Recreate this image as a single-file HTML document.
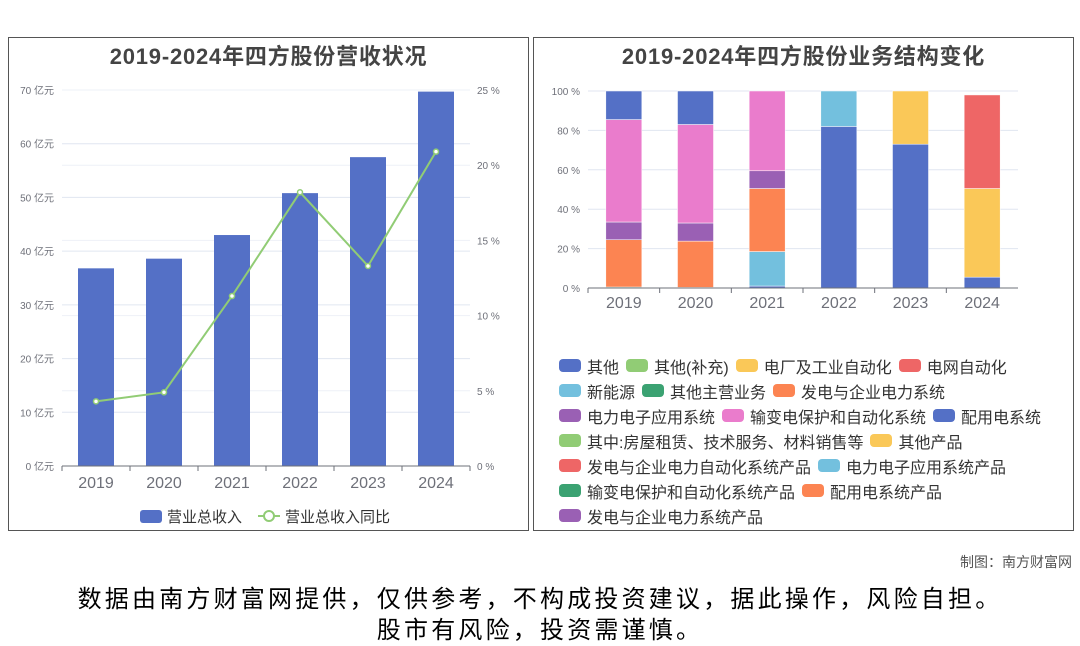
<!DOCTYPE html>
<html><head><meta charset="utf-8">
<style>
body{margin:0;width:1080px;height:646px;background:#fff;font-family:"Liberation Sans","Noto Sans CJK SC",sans-serif;position:relative;overflow:hidden}
.panel{position:absolute;border:1px solid #555;box-sizing:border-box;top:37px;height:494px}
.title{position:absolute;top:1px;left:0;right:0;text-align:center;font-weight:bold;font-size:22px;letter-spacing:0.8px;color:#444}
.leg{position:absolute;display:flex;flex-wrap:wrap;font-size:16px;color:#333;width:530px;left:25px;top:315px;row-gap:0;white-space:nowrap}
.li{display:flex;align-items:center;margin-right:7px;height:25px}
.sw{width:22px;height:13px;border-radius:4px;margin-right:6px}
svg text{font-family:"Liberation Sans","Noto Sans CJK SC",sans-serif}
</style></head><body>
<div class="panel" style="left:8px;width:521px">
<div class="title">2019-2024年四方股份营收状况</div>
</div>
<div class="panel" style="left:533px;width:541px">
<div class="title">2019-2024年四方股份业务结构变化</div>
<div class="leg" id="leg"></div>
</div>
<svg id="s" width="1080" height="646" style="position:absolute;left:0;top:0"></svg>
<div style="position:absolute;right:8px;top:552px;font-size:14px;color:#555">制图：南方财富网</div>
<div style="position:absolute;left:0;right:0;top:584px;text-align:center;font-size:24px;letter-spacing:3.2px;line-height:31px;color:#000">数据由南方财富网提供，仅供参考，不构成投资建议，据此操作，风险自担。<br>股市有风险，投资需谨慎。</div>
<script>
const years=['2019','2020','2021','2022','2023','2024'];
const revenue=[36.8,38.6,43.0,50.8,57.5,69.7];
const growth=[4.3,4.9,11.3,18.2,13.3,20.9];
const leftTicks=[0,10,20,30,40,50,60,70];
const rightTicks=[0,5,10,15,20,25];
const pctTicks=[0,20,40,60,80,100];
const legendNames=['其他','其他(补充)','电厂及工业自动化','电网自动化','新能源','其他主营业务','发电与企业电力系统','电力电子应用系统','输变电保护和自动化系统','配用电系统','其中:房屋租赁、技术服务、材料销售等','其他产品','发电与企业电力自动化系统产品','电力电子应用系统产品','输变电保护和自动化系统产品','配用电系统产品','发电与企业电力系统产品'];
const legendColors=['#5470c6','#91cc75','#fac858','#ee6666','#73c0de','#3ba272','#fc8452','#9a60b4','#ea7ccc','#5470c6','#91cc75','#fac858','#ee6666','#73c0de','#3ba272','#fc8452','#9a60b4'];
const stackNames=['其他','其他产品','电网自动化','新能源','输变电保护和自动化系统产品','发电与企业电力系统','电力电子应用系统','输变电保护和自动化系统','配用电系统'];
const stackColors=['#5470c6','#fac858','#ee6666','#73c0de','#3ba272','#fc8452','#9a60b4','#ea7ccc','#5470c6'];
const sOther=[0,0,1,82,73,5.5];
const sOtherProd=[0,0,0,0,27,45];
const sGrid=[0,0,0,0,0,47.5];
const sNewEnergy=[0,0,17.5,18,0,0];
const sTransProd=[0.5,0.3,0,0,0,0];
const sPower=[24,23.5,32,0,0,0];
const sElec=[9,9.2,9,0,0,0];
const sTrans=[52,50,40.5,0,0,0];
const sDist=[14.5,17,0,0,0,0];
const stacks=[sOther,sOtherProd,sGrid,sNewEnergy,sTransProd,sPower,sElec,sTrans,sDist];

const svg=document.getElementById('s');const NS='http://www.w3.org/2000/svg';
function mk(t,a,p){const e=document.createElementNS(NS,t);for(const k in a)e.setAttribute(k,a[k]);(p||svg).appendChild(e);return e;}
const L={x0:62,x1:470,y0:466,y1:90};
const yl=v=>L.y0-(v/70)*(L.y0-L.y1);
const yr=v=>L.y0-(v/25)*(L.y0-L.y1);
const bw=(L.x1-L.x0)/years.length;
const xl=i=>L.x0+bw*(i+0.5);
leftTicks.forEach(v=>{
 if(v>0){const g=mk('line',{x1:L.x0,x2:L.x1,y1:yl(v),y2:yl(v),stroke:'#e0e6f1'});}
 const t=mk('text',{x:54,y:yl(v)+4,'font-size':10,fill:'#6e7079','text-anchor':'end'});t.textContent=v+' 亿元';
 
});
rightTicks.forEach(v=>{
 if(v>0){const g=mk('line',{x1:L.x0,x2:L.x1,y1:yr(v),y2:yr(v),stroke:'#eef1f7'});}
 const t=mk('text',{x:477,y:yr(v)+4,'font-size':10,fill:'#6e7079'});t.textContent=v+' %';
 
});
revenue.forEach((v,i)=>{
 const r=mk('rect',{x:xl(i)-18,y:yl(v),width:36,height:L.y0-yl(v),fill:'#5470c6'});
 
});
const ax=mk('line',{x1:L.x0,x2:L.x1,y1:L.y0,y2:L.y0,stroke:'#6e7079'});
years.forEach((y,i)=>{
 const tk=mk('line',{x1:L.x0+bw*i,x2:L.x0+bw*i,y1:L.y0,y2:L.y0+5,stroke:'#6e7079'});
 const t=mk('text',{x:xl(i),y:488,'font-size':16,fill:'#6e7079','text-anchor':'middle'});t.textContent=y;
 
});
const tk6=mk('line',{x1:L.x1,x2:L.x1,y1:L.y0,y2:L.y0+5,stroke:'#6e7079'});
const pl=mk('polyline',{points:growth.map((v,i)=>xl(i)+','+yr(v)).join(' '),fill:'none',stroke:'#91cc75','stroke-width':2});

growth.forEach((v,i)=>{const c=mk('circle',{cx:xl(i),cy:yr(v),r:2.5,fill:'#fff',stroke:'#91cc75','stroke-width':1.5});});
let lg=mk('rect',{x:140,y:510,width:22,height:13,rx:3,fill:'#5470c6'});
let lt=mk('text',{x:167,y:522,'font-size':15,fill:'#333'});lt.textContent='营业总收入';
lg=mk('line',{x1:258,x2:280,y1:516,y2:516,stroke:'#91cc75','stroke-width':2});
lg=mk('circle',{cx:269,cy:516,r:5,fill:'#fff',stroke:'#91cc75','stroke-width':2});
lt=mk('text',{x:285,y:522,'font-size':15,fill:'#333'});lt.textContent='营业总收入同比';
const R={x0:588,x1:1018,y0:288,y1:91};
const yp=v=>R.y0-(v/100)*(R.y0-R.y1);
const rbw=(R.x1-R.x0)/years.length;
const xr=i=>R.x0+rbw*(i+0.5);
pctTicks.forEach(v=>{
 if(v>0){const g=mk('line',{x1:R.x0,x2:R.x1,y1:yp(v),y2:yp(v),stroke:'#e0e6f1'});}
 const t=mk('text',{x:580,y:yp(v)+4,'font-size':10,fill:'#6e7079','text-anchor':'end'});t.textContent=v+' %';
 
});
years.forEach((y,i)=>{
 let acc=0;
 stacks.forEach((s,k)=>{const v=s[i];if(v<=0)return;
  const r=mk('rect',{x:xr(i)-18,y:yp(acc+v),width:36,height:yp(acc)-yp(acc+v),fill:stackColors[k],stroke:'#fff','stroke-width':0.5});
  acc+=v;});
 const tk=mk('line',{x1:R.x0+rbw*i,x2:R.x0+rbw*i,y1:R.y0,y2:R.y0+5,stroke:'#6e7079'});
 const t=mk('text',{x:xr(i),y:308,'font-size':16,fill:'#6e7079','text-anchor':'middle'});t.textContent=y;
 
});
const ax2=mk('line',{x1:R.x0,x2:R.x1,y1:R.y0,y2:R.y0,stroke:'#6e7079'});
const leg=document.getElementById('leg');
const breaks=[3,6,9,11,13,15];
legendNames.forEach((n,i)=>{
 const d=document.createElement('div');d.className='li';
 
 
 d.innerHTML='<span class="sw" style="background:'+legendColors[i]+'"></span>'+n;
 leg.appendChild(d);
 if(breaks.includes(i)){const b=document.createElement('div');b.style.width='100%';b.style.height='0';leg.appendChild(b);}
});
</script>
</body></html>
